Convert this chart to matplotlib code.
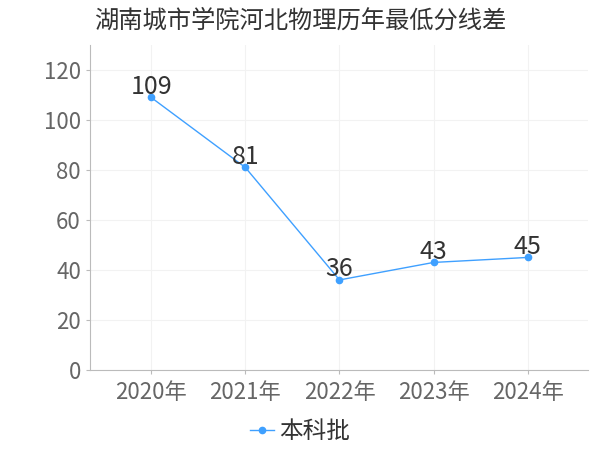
import matplotlib
matplotlib.use("Agg")
import matplotlib.pyplot as plt

plt.rcParams['font.family'] = ['Noto Sans CJK SC', 'DejaVu Sans']

years = ["2020年", "2021年", "2022年", "2023年", "2024年"]
scores = [109, 81, 36, 43, 45]
series_name = "本科批"

fig = plt.figure(figsize=(6, 4.5), dpi=100)
ax = fig.add_axes([0.15, 0.178, 0.83, 0.722])

x = list(range(len(years)))
ax.plot(x, scores, color="#3fa0ff", linewidth=1, marker="o", markersize=4.5, label=series_name)
for xi, v in zip(x, scores):
    ax.text(xi, v - 1, str(v), ha="center", va="bottom", fontsize=18, color="#333333")

ax.set_xlim(-0.65, 4.64)
ax.set_ylim(0, 130)
ax.set_yticks([0, 20, 40, 60, 80, 100, 120])
ax.set_xticks(x)
ax.set_xticklabels(years)
ax.grid(True, color="#f2f2f2", linewidth=0.8)
ax.set_axisbelow(True)
for s in ["top", "right"]:
    ax.spines[s].set_visible(False)
for s in ["left", "bottom"]:
    ax.spines[s].set_color("#bbbbbb")
ax.tick_params(axis="both", colors="#bbbbbb", labelcolor="#666666", labelsize=16, length=3)
ax.tick_params(axis="x", pad=5)

fig.text(0.5, 0.955, "湖南城市学院河北物理历年最低分线差", ha="center", va="center",
         fontsize=17.5, color="#333333")
fig.legend(loc="center", bbox_to_anchor=(0.5, 0.04), frameon=False, fontsize=17,
           handlelength=1.0, handletextpad=0.2, labelcolor="#333333")

plt.savefig("out.png")
